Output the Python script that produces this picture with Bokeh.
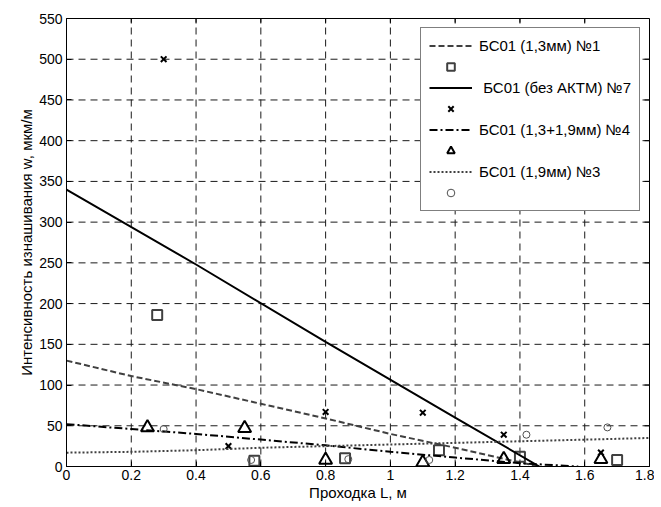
from bokeh.plotting import figure
from bokeh.models import Range1d, FixedTicker, Legend, LegendItem
from bokeh.embed import file_html
from bokeh.resources import INLINE

# ---- data ----
x_ticks = [0, 0.2, 0.4, 0.6, 0.8, 1.0, 1.2, 1.4, 1.6, 1.8]
x_tick_labels = ["0", "0.2", "0.4", "0.6", "0.8", "1", "1.2", "1.4", "1.6", "1.8"]
y_ticks = [0, 50, 100, 150, 200, 250, 300, 350, 400, 450, 500, 550]

# №1 (1,3мм): fit line + points
fit1_x = [0, 0.2, 0.4, 0.6, 0.8, 1.0, 1.2, 1.4, 1.46]
fit1_y = [130, 111, 95, 77, 59, 40, 23, 5, 0]
pts1_x = [0.28, 0.58, 0.86, 1.15, 1.40, 1.70]
pts1_y = [186, 7, 10, 20, 12, 8]

# №7 (без АКТМ)
fit7_x = [0, 0.4, 0.8, 1.2, 1.46]
fit7_y = [340, 248, 153, 60, 0]
pts7_x = [0.30, 0.50, 0.80, 1.10, 1.35, 1.65]
pts7_y = [500, 25, 67, 66, 39, 17]

# №4 (1,3+1,9мм)
fit4_x = [0, 0.2, 0.4, 0.6, 0.8, 1.0, 1.2, 1.4, 1.58]
fit4_y = [52, 46, 40, 33, 26, 18, 11, 4, 0]
pts4_x = [0.25, 0.55, 0.80, 1.10, 1.35, 1.65]
pts4_y = [48, 47, 8, 5, 9, 9]

# №3 (1,9мм)
fit3_x = [0, 0.2, 0.4, 0.6, 0.8, 1.0, 1.2, 1.4, 1.6, 1.8]
fit3_y = [17, 18, 20, 23, 25, 27, 29, 31, 33, 35]
pts3_x = [0.30, 0.57, 0.87, 1.12, 1.42, 1.67]
pts3_y = [46, 8, 9, 8, 39, 48]

labels = ["БС01 (1,3мм) №1", " БС01 (без АКТМ) №7", "БС01 (1,3+1,9мм) №4", "БС01 (1,9мм) №3"]

FONT = "Liberation Sans"
X0, X1, Y0, Y1 = 0, 1.8, 0, 550
FW, FH = 583, 448
TICK = 5

p = figure(frame_width=FW, frame_height=FH, output_backend="svg", toolbar_location=None,
           x_range=Range1d(X0, X1), y_range=Range1d(Y0, Y1),
           min_border_left=66, min_border_top=18, min_border_right=5, min_border_bottom=38,
           background_fill_color="white", border_fill_color="white")
p.outline_line_color = "black"
p.outline_line_width = 1

# axes
p.xaxis.ticker = FixedTicker(ticks=x_ticks)
p.xaxis.major_label_overrides = {t: l for t, l in zip(x_ticks, x_tick_labels)}
p.yaxis.ticker = FixedTicker(ticks=y_ticks)
for ax in (p.xaxis[0], p.yaxis[0]):
    ax.major_tick_in = TICK
    ax.major_tick_out = 0
    ax.minor_tick_in = 0
    ax.minor_tick_out = 0
    ax.major_label_text_font = FONT
    ax.major_label_text_font_size = "14px"
    ax.major_label_text_color = "black"
    ax.axis_label_text_font = FONT
    ax.axis_label_text_font_size = "15px"
    ax.axis_label_text_font_style = "normal"
    ax.axis_label_text_color = "black"
    ax.axis_line_color = "black"
    ax.major_tick_line_color = "black"
p.xaxis.axis_label = "Проходка L, м"
p.yaxis.axis_label = "Интенсивность изнашивания w, мкм/м"
p.xaxis.major_label_standoff = 3
p.yaxis.major_label_standoff = 4
p.xaxis.axis_label_standoff = 1
p.yaxis.axis_label_standoff = 1

# dashed grid lines drawn from the tick arrays
p.xgrid.visible = False
p.ygrid.visible = False
gx_ticks = x_ticks[1:-1]
gy_ticks = y_ticks[1:-1]
p.segment(x0=gx_ticks, y0=[Y0] * len(gx_ticks), x1=gx_ticks, y1=[Y1] * len(gx_ticks),
          line_color="#1a1a1a", line_width=1, line_dash="7 5")
p.segment(x0=[X0] * len(gy_ticks), y0=gy_ticks, x1=[X1] * len(gy_ticks), y1=gy_ticks,
          line_color="#1a1a1a", line_width=1, line_dash="7 5")

# inward ticks on the top and right frame edges (derived from the tick arrays)
dy = TICK * (Y1 - Y0) / FH
dx = TICK * (X1 - X0) / FW
p.segment(x0=x_ticks, y0=[Y1] * len(x_ticks), x1=x_ticks, y1=[Y1 - dy] * len(x_ticks),
          line_color="black", line_width=1)
p.segment(x0=[X1] * len(y_ticks), y0=y_ticks, x1=[X1 - dx] * len(y_ticks), y1=y_ticks,
          line_color="black", line_width=1)

# series
l1 = p.line(fit1_x, fit1_y, line_color="#404040", line_width=2, line_dash="6 3")
s1 = p.scatter(pts1_x, pts1_y, marker="square", size=10, fill_color=None,
               line_color="#404040", line_width=2)
l7 = p.line(fit7_x, fit7_y, line_color="black", line_width=2)
s7 = p.scatter(pts7_x, pts7_y, marker="x", size=8, line_color="black", line_width=2)
l4 = p.line(fit4_x, fit4_y, line_color="black", line_width=2, line_dash="8 3 2 3")
s4 = p.scatter(pts4_x, pts4_y, marker="triangle", size=13, fill_color=None,
               line_color="black", line_width=2)
l3 = p.line(fit3_x, fit3_y, line_color="#404040", line_width=2, line_dash="2 2")
s3 = p.scatter(pts3_x, pts3_y, marker="circle", size=7, fill_color=None,
               line_color="#505050", line_width=1)

items = [
    LegendItem(label=labels[0], renderers=[l1]),
    LegendItem(label=" ", renderers=[s1]),
    LegendItem(label=labels[1], renderers=[l7]),
    LegendItem(label=" ", renderers=[s7]),
    LegendItem(label=labels[2], renderers=[l4]),
    LegendItem(label=" ", renderers=[s4]),
    LegendItem(label=labels[3], renderers=[l3]),
    LegendItem(label=" ", renderers=[s3]),
]
legend = Legend(items=items, location="top_right", margin=9, padding=8, spacing=2,
                glyph_width=43, glyph_height=19, label_height=19, label_standoff=7,
                label_text_font=FONT, label_text_font_size="15px", label_text_color="black",
                border_line_color="black", border_line_width=1,
                background_fill_color="white", background_fill_alpha=1)
p.add_layout(legend, "center")

open("out.html", "w").write(file_html(p, INLINE))
